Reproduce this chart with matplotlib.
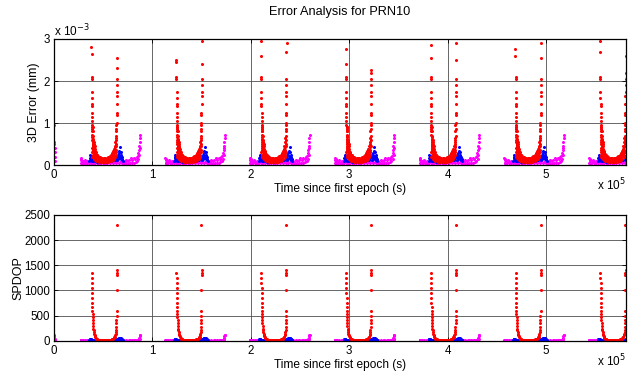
import matplotlib.pyplot as plt
import numpy as np

plt.rcParams['font.family'] = ['Liberation Sans', 'DejaVu Sans']

# pass start epochs (x 1e5 s), the ground track repeats about once a sidereal day
pass_start = [0.0, 0.862, 1.723, 2.585, 3.447, 4.308, 5.170]

# magenta series: offsets within a pass (x 1e5 s), 3D error (x 1e-3 mm), SPDOP
mag_t = [0.270, 0.274, 0.278, 0.282, 0.286, 0.290,
         0.300, 0.315, 0.330, 0.345, 0.360, 0.375, 0.390, 0.405, 0.420, 0.435,
         0.450, 0.465, 0.480, 0.495, 0.510, 0.525, 0.540, 0.555, 0.570, 0.585,
         0.600, 0.615, 0.630, 0.645, 0.660, 0.675, 0.690, 0.705, 0.720, 0.735,
         0.750, 0.765, 0.780, 0.795, 0.810, 0.825, 0.840,
         0.850, 0.856, 0.861, 0.865, 0.869, 0.872, 0.875,
         0.272, 0.280, 0.295, 0.310, 0.325, 0.340, 0.355,
         0.710, 0.730, 0.750, 0.770, 0.790, 0.810, 0.830, 0.845, 0.858, 0.866,
         0.870]
mag_err = [0.18, 0.12, 0.15, 0.08, 0.10, 0.06,
           0.04, 0.08, 0.03, 0.07, 0.04, 0.08, 0.03, 0.06, 0.04, 0.07,
           0.03, 0.06, 0.04, 0.07, 0.03, 0.06, 0.04, 0.07, 0.05, 0.08,
           0.04, 0.07, 0.05, 0.09, 0.05, 0.08, 0.06, 0.10, 0.07, 0.11,
           0.09, 0.13, 0.16, 0.12, 0.18, 0.14, 0.20,
           0.22, 0.28, 0.36, 0.45, 0.55, 0.65, 0.72,
           0.05, 0.04, 0.10, 0.12, 0.05, 0.10, 0.06,
           0.03, 0.04, 0.03, 0.05, 0.06, 0.05, 0.07, 0.10, 0.15, 0.25,
           0.40]
mag_dop = [25, 15, 20, 10, 12, 8,
           5, 12, 6, 10, 5, 12, 6, 10, 5, 12,
           6, 10, 5, 12, 6, 10, 5, 12, 6, 10,
           5, 12, 6, 10, 5, 12, 6, 10, 5, 12,
           6, 10, 5, 12, 8, 14, 12,
           18, 25, 40, 60, 90, 110, 125,
           10, 5, 15, 8, 4, 12, 6,
           4, 8, 3, 9, 5, 10, 6, 14, 20, 30,
           45]

# start of the record: tail of the previous magenta pass
mag0_t = [0.000, 0.002, 0.004, 0.006, 0.008, 0.010, 0.012]
mag0_err = [0.55, 0.95, 0.50, 0.40, 0.30, 0.20, 0.10]
mag0_dop = [120, 90, 60, 40, 25, 15, 8]

# blue series
blue_t = [0.360, 0.364, 0.368, 0.372, 0.376, 0.380, 0.390, 0.400, 0.420, 0.440,
          0.460, 0.480, 0.500, 0.520, 0.540, 0.560, 0.580, 0.600, 0.615, 0.630,
          0.640, 0.650, 0.658, 0.665, 0.672, 0.678, 0.684, 0.690, 0.695, 0.700,
          0.645, 0.655, 0.662, 0.668, 0.675, 0.682, 0.688, 0.370, 0.375]
blue_err = [0.10, 0.18, 0.25, 0.20, 0.14, 0.12, 0.10, 0.09, 0.09, 0.08,
            0.08, 0.08, 0.08, 0.08, 0.09, 0.09, 0.10, 0.11, 0.13, 0.16,
            0.20, 0.24, 0.28, 0.33, 0.42, 0.30, 0.25, 0.20, 0.14, 0.09,
            0.12, 0.15, 0.18, 0.22, 0.20, 0.15, 0.12, 0.12, 0.20]
blue_dop = [20, 30, 35, 30, 25, 20, 15, 12, 10, 10,
            10, 10, 10, 10, 10, 12, 14, 18, 22, 28,
            35, 45, 55, 60, 55, 50, 40, 30, 20, 12,
            30, 40, 45, 50, 45, 35, 25, 25, 30]

# red series, 3D error
red_t = [0.383, 0.383, 0.384, 0.384, 0.385, 0.385, 0.386, 0.386, 0.387, 0.387,
         0.388, 0.388, 0.389, 0.389, 0.390, 0.391, 0.392, 0.393, 0.395, 0.396,
         0.397, 0.398, 0.400, 0.402, 0.404, 0.406, 0.408, 0.410, 0.413, 0.416,
         0.419, 0.422, 0.426, 0.430, 0.435, 0.440, 0.445, 0.450, 0.456, 0.462,
         0.468, 0.474, 0.480, 0.486, 0.492, 0.498, 0.504, 0.510, 0.516, 0.522,
         0.528, 0.534, 0.540, 0.546, 0.552, 0.558, 0.564, 0.570, 0.576, 0.582,
         0.588, 0.594, 0.600, 0.605, 0.610, 0.614, 0.618, 0.622, 0.625, 0.628,
         0.630, 0.632, 0.633, 0.634, 0.635, 0.636, 0.637, 0.637, 0.638, 0.638,
         0.639, 0.639, 0.640,
         0.385, 0.388, 0.390, 0.392, 0.394, 0.399, 0.403, 0.410, 0.420, 0.430,
         0.445, 0.460, 0.475, 0.490, 0.505, 0.520, 0.535, 0.550, 0.565, 0.580,
         0.595, 0.608, 0.620, 0.626, 0.631,
         0.392, 0.395, 0.398, 0.401, 0.405, 0.409, 0.412, 0.415, 0.418, 0.424,
         0.428, 0.434, 0.440, 0.448, 0.455, 0.465, 0.475, 0.490, 0.505, 0.520,
         0.535, 0.550, 0.565, 0.580, 0.590, 0.600, 0.610, 0.618, 0.624, 0.628,
         0.631, 0.633]
red_err = [2.10, 2.05, 1.75, 1.60, 1.45, 1.40, 1.25, 1.15, 1.05, 0.95,
           0.90, 0.85, 0.80, 0.72, 0.66, 0.60, 0.55, 0.50, 0.62, 0.45,
           0.55, 0.40, 0.48, 0.35, 0.42, 0.30, 0.36, 0.27, 0.32, 0.22,
           0.28, 0.20, 0.24, 0.17, 0.21, 0.15, 0.19, 0.13, 0.17, 0.12,
           0.16, 0.11, 0.14, 0.10, 0.13, 0.10, 0.14, 0.11, 0.13, 0.10,
           0.14, 0.11, 0.15, 0.12, 0.16, 0.13, 0.18, 0.14, 0.20, 0.16,
           0.22, 0.18, 0.26, 0.21, 0.30, 0.25, 0.36, 0.30, 0.42, 0.35,
           0.50, 0.60, 0.45, 0.70, 0.85, 1.00, 1.20, 1.25, 1.45, 1.65,
           1.75, 1.90, 2.05,
           0.30, 0.20, 0.40, 0.25, 0.35, 0.22, 0.18, 0.15, 0.12, 0.10,
           0.09, 0.08, 0.07, 0.07, 0.07, 0.07, 0.08, 0.08, 0.09, 0.10,
           0.12, 0.15, 0.20, 0.25, 0.30,
           0.90, 0.80, 0.70, 0.60, 0.55, 0.50, 0.45, 0.38, 0.33, 0.30,
           0.27, 0.25, 0.23, 0.22, 0.20, 0.19, 0.18, 0.17, 0.18, 0.17,
           0.18, 0.20, 0.22, 0.24, 0.28, 0.33, 0.38, 0.45, 0.55, 0.65,
           0.80, 0.95]

# highest red error points of each pass (left and right spike)
red_spike_left = [2.80, 2.50, 2.95, 2.75, 2.85, 2.75, 2.95]
red_spike_left2 = [2.65, 2.45, 2.60, 2.40, 2.55, 2.60, 2.70]
red_spike_right = [2.55, 2.95, 2.90, 2.25, 2.90, 2.90, 2.60]
red_spike_right2 = [2.30, 2.40, 2.70, 2.20, 2.50, 2.55, 2.20]

# red series, SPDOP
red_dt = [0.383, 0.384, 0.385, 0.386, 0.387, 0.388, 0.389, 0.390, 0.391, 0.392,
          0.393, 0.394, 0.396, 0.398, 0.400, 0.402, 0.405, 0.408, 0.412, 0.416,
          0.420, 0.425, 0.430, 0.436, 0.442, 0.450, 0.458, 0.466, 0.475, 0.485,
          0.495, 0.505, 0.515, 0.525, 0.535, 0.545, 0.555, 0.565, 0.575, 0.585,
          0.593, 0.600, 0.607, 0.613, 0.618, 0.622, 0.626, 0.629, 0.631, 0.633,
          0.634, 0.635, 0.636, 0.637, 0.637, 0.638, 0.638, 0.639, 0.637]
red_dop = [1350, 1250, 1150, 1050, 950, 850, 760, 680, 600, 530,
           470, 420, 350, 290, 245, 210, 170, 140, 110, 90,
           72, 58, 47, 38, 31, 25, 21, 18, 16, 15,
           14, 14, 14, 15, 16, 17, 19, 22, 26, 31,
           37, 45, 56, 70, 88, 110, 140, 175, 220, 280,
           350, 420, 500, 600, 1000, 1300, 1350, 1400, 2300]

xticks = [0, 1, 2, 3, 4, 5]
xmax = 5.815

fig = plt.figure(figsize=(6.28, 3.71), dpi=100)
ax1 = fig.add_axes([0.086, 0.555, 0.911, 0.340])
ax2 = fig.add_axes([0.086, 0.081, 0.911, 0.340])

mk = dict(ls='none', marker='o', ms=2.2, mew=0)

ax1.plot(mag0_t, mag0_err, color='magenta', **mk)
ax2.plot(mag0_t, mag0_dop, color='magenta', **mk)
for k, t0 in enumerate(pass_start):
    ax1.plot(np.add(mag_t, t0), mag_err, color='magenta', **mk)
    ax1.plot(np.add(blue_t, t0), blue_err, color='blue', **mk)
    ax1.plot(np.add(red_t, t0), red_err, color='red', **mk)
    ax1.plot([t0 + 0.381, t0 + 0.382], [red_spike_left[k], red_spike_left2[k]],
             color='red', **mk)
    ax1.plot([t0 + 0.641, t0 + 0.640], [red_spike_right[k], red_spike_right2[k]],
             color='red', **mk)

    ax2.plot(np.add(mag_t, t0), mag_dop, color='magenta', **mk)
    ax2.plot(np.add(blue_t, t0), blue_dop, color='blue', **mk)
    ax2.plot(np.add(red_dt, t0), red_dop, color='red', **mk)

ax1.set_ylim(0, 3)
ax1.set_yticks([0, 1, 2, 3])
ax2.set_ylim(0, 2500)
ax2.set_yticks([0, 500, 1000, 1500, 2000, 2500])

for ax in (ax1, ax2):
    ax.set_xlim(0, xmax)
    ax.set_xticks(xticks)
    ax.set_xticklabels([str(v) for v in xticks])
    ax.tick_params(direction='in', top=True, right=True, labelsize=8.3,
                   length=3, width=0.6, pad=3)
    ax.grid(True, color='0.3', lw=0.6)
    ax.set_axisbelow(True)
    for s in ax.spines.values():
        s.set_linewidth(0.9)
    ax.set_xlabel('Time since first epoch (s)', fontsize=8.6, labelpad=1)
    ax.text(1.0, -0.09, r'x 10$^{5}$', transform=ax.transAxes,
            ha='right', va='top', fontsize=8.5)

ax1.set_ylabel('3D Error (mm)', fontsize=9)
ax1.yaxis.set_label_coords(-0.025, 0.5)
ax2.set_ylabel('SPDOP', fontsize=9)
ax2.yaxis.set_label_coords(-0.052, 0.5)
ax1.text(0.0, 1.0, r'x 10$^{-3}$', transform=ax1.transAxes,
         ha='left', va='bottom', fontsize=8.5)
fig.text(0.086 + 0.911 / 2, 1 - 12 / 371, 'Error Analysis for PRN10',
         ha='center', va='center', fontsize=9.2)

fig.savefig('out.png', dpi=100)
